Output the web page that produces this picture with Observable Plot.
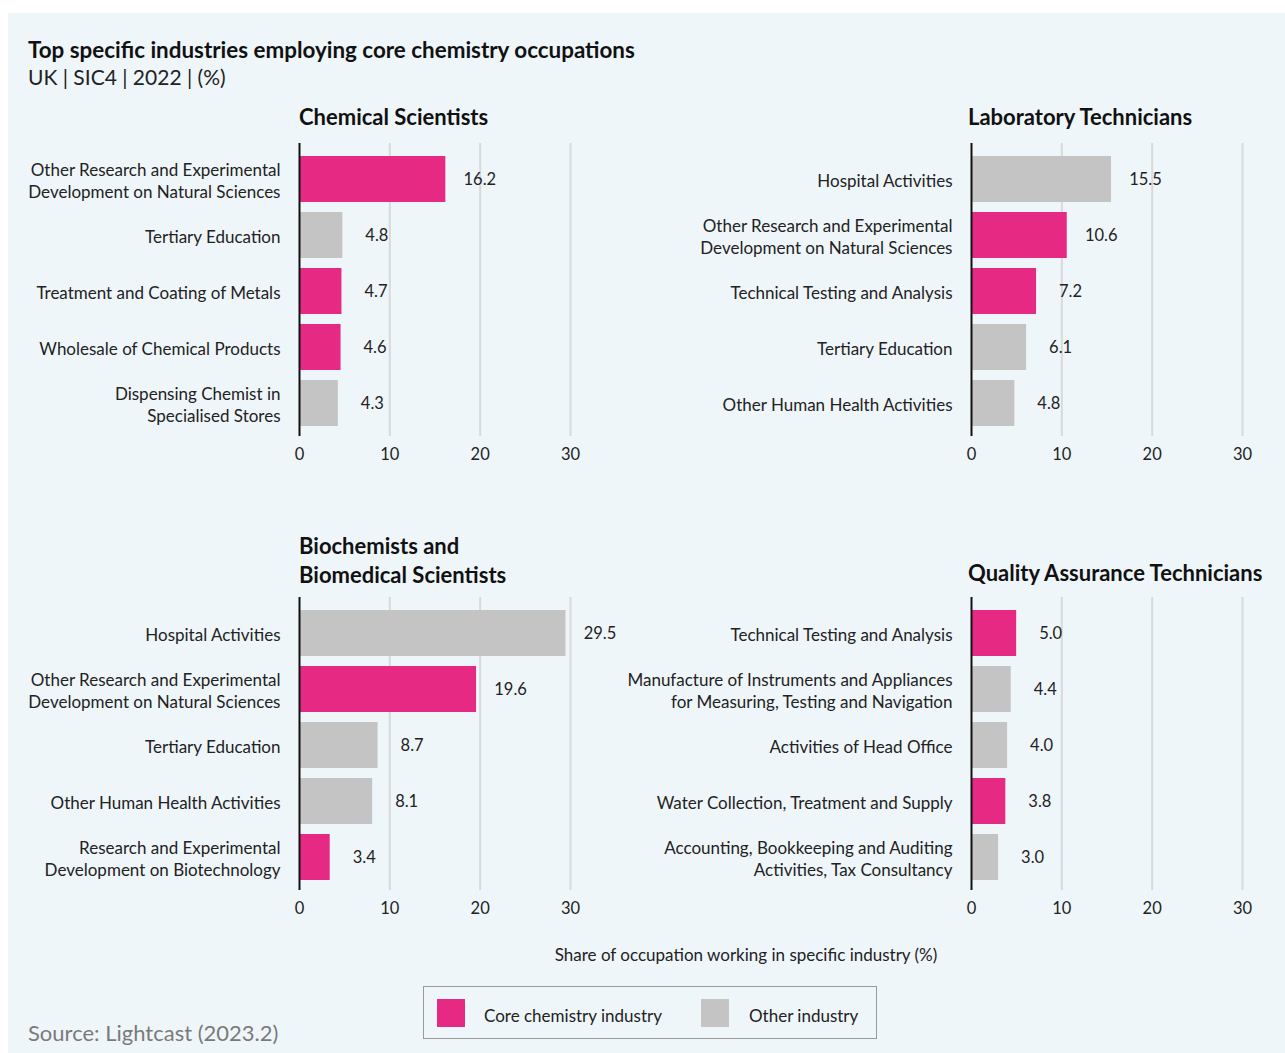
<!DOCTYPE html>
<html><head><meta charset="utf-8">
<script src="https://cdn.jsdelivr.net/npm/d3@7"></script>
<script src="https://cdn.jsdelivr.net/npm/@observablehq/plot@0.6"></script>
<style>
body{margin:0;background:#fff;font-family:Lato,"Noto Sans",sans-serif;color:#1a1a1a;}
#page{position:relative;width:1285px;height:1053px;overflow:hidden;}
#bg{position:absolute;left:8px;top:13px;right:0;bottom:0;background:#eff6fa;}
.abs{position:absolute;white-space:nowrap;}
.ptitle{font-weight:700;font-size:22px;line-height:29px;color:#111;}
.plot{position:absolute;}
.plot svg{overflow:visible;}
#legend{position:absolute;left:423px;top:986px;width:452px;height:51px;border:1.5px solid #9a9a9a;}
.sw{position:absolute;top:12px;width:28px;height:28px;}
.lt{position:absolute;top:16px;font-size:17px;line-height:26px;color:#222;}
</style></head><body>
<div id="page"><div id="bg"></div></div>
<script>
// ---- data ----
const chemScientistsIndustries = ["Other Research and Experimental\nDevelopment on Natural Sciences","Tertiary Education","Treatment and Coating of Metals","Wholesale of Chemical Products","Dispensing Chemist in\nSpecialised Stores"];
const chemScientistsShare = [16.2, 4.8, 4.7, 4.6, 4.3];
const chemScientistsCore = [true, false, true, true, false];

const labTechIndustries = ["Hospital Activities","Other Research and Experimental\nDevelopment on Natural Sciences","Technical Testing and Analysis","Tertiary Education","Other Human Health Activities"];
const labTechShare = [15.5, 10.6, 7.2, 6.1, 4.8];
const labTechCore = [false, true, true, false, false];

const biochemIndustries = ["Hospital Activities","Other Research and Experimental\nDevelopment on Natural Sciences","Tertiary Education","Other Human Health Activities","Research and Experimental\nDevelopment on Biotechnology"];
const biochemShare = [29.5, 19.6, 8.7, 8.1, 3.4];
const biochemCore = [false, true, false, false, true];

const qaIndustries = ["Technical Testing and Analysis","Manufacture of Instruments and Appliances\nfor Measuring, Testing and Navigation","Activities of Head Office","Water Collection, Treatment and Supply","Accounting, Bookkeeping and Auditing\nActivities, Tax Consultancy"];
const qaShare = [5.0, 4.4, 4.0, 3.8, 3.0];
const qaCore = [true, false, false, true, false];

const xTicks = [0, 10, 20, 30];
const legendLabels = ["Core chemistry industry", "Other industry"];
const legendColors = ["#e62a84", "#c4c4c4"];

const FONT = 'Lato,"Noto Sans",sans-serif';
const page = document.getElementById("page");

function addDiv(html, cls, style) {
  const d = document.createElement("div");
  d.className = "abs " + (cls || "");
  d.innerHTML = html;
  Object.assign(d.style, style);
  page.appendChild(d);
  return d;
}

function panel(cats, vals, core, left, top, marginLeft, marginRight) {
  const data = cats.map((c, i) => ({industry: c, share: vals[i], kind: core[i] ? legendLabels[0] : legendLabels[1]}));
  const plotW = 271;
  const chart = Plot.plot({
    width: marginLeft + plotW + marginRight,
    height: 331,
    marginLeft, marginRight, marginTop: 8, marginBottom: 30,
    style: {background: "transparent", fontFamily: FONT, fontSize: "16px", color: "#222", overflow: "visible"},
    x: {domain: [0, 30], label: null},
    y: {domain: cats, paddingInner: 0.18, paddingOuter: 0.09, insetTop: 6, insetBottom: 3, label: null},
    color: {domain: legendLabels, range: legendColors},
    marks: [
      Plot.ruleX(xTicks.slice(1), {stroke: "#d9d9d9", strokeWidth: 2, strokeOpacity: 1}),
      Plot.barX(data, {x: "share", y: "industry", fill: "kind"}),
      Plot.text(data, {x: "share", y: "industry", text: d => d.share.toFixed(1), dx: 34, fontSize: 16.5, fill: "#222", textAnchor: "middle"}),
      Plot.ruleX([0], {stroke: "#111", strokeWidth: 2}),
      Plot.axisX({ticks: xTicks, tickSize: 0, tickPadding: 12, fontSize: 16.5, label: null, tickFormat: d => String(d)}),
      Plot.axisY({tickSize: 0, tickPadding: 19, fontSize: 17, lineHeight: 1.3, label: null, fill: "#222"})
    ]
  });
  const wrap = document.createElement("div");
  wrap.className = "plot";
  wrap.style.left = left + "px";
  wrap.style.top = top + "px";
  wrap.appendChild(chart);
  page.appendChild(wrap);
}

// titles
addDiv("Top specific industries employing core chemistry occupations", "", {left: "28px", top: "37px", fontSize: "22.4px", fontWeight: "700", lineHeight: "26px", color: "#111"});
addDiv("UK | SIC4 | 2022 | (%)", "", {left: "28px", top: "64px", fontSize: "21px", lineHeight: "26px", color: "#222"});

// panels
panel(chemScientistsIndustries, chemScientistsShare, chemScientistsCore, 0, 135, 299, 70);
panel(labTechIndustries, labTechShare, labTechCore, 560, 135, 411, 40);
panel(biochemIndustries, biochemShare, biochemCore, 0, 589, 299, 70);
panel(qaIndustries, qaShare, qaCore, 560, 589, 411, 40);

addDiv("Chemical Scientists", "ptitle", {left: "299px", top: "102px"});
addDiv("Laboratory Technicians", "ptitle", {left: "968px", top: "102px"});
addDiv("Biochemists and<br>Biomedical Scientists", "ptitle", {left: "299px", top: "531px"});
addDiv("Quality Assurance Technicians", "ptitle", {left: "968px", top: "558px"});

// x label
addDiv("Share of occupation working in specific industry (%)", "", {left: "746px", top: "945px", transform: "translateX(-50%)", fontSize: "17px", lineHeight: "20px", color: "#222"});

// legend
const leg = document.createElement("div");
leg.id = "legend";
const swX = [13, 277], txtX = [60, 325];
legendLabels.forEach((lab, i) => {
  const s = document.createElement("div");
  s.className = "sw"; s.style.left = swX[i] + "px"; s.style.background = legendColors[i];
  leg.appendChild(s);
  const t = document.createElement("div");
  t.className = "lt"; t.style.left = txtX[i] + "px"; t.textContent = lab;
  leg.appendChild(t);
});
page.appendChild(leg);

// source
addDiv("Source: Lightcast (2023.2)", "", {left: "28px", top: "1020px", fontSize: "22px", lineHeight: "26px", color: "#7a7a7a"});
</script>
</body></html>
